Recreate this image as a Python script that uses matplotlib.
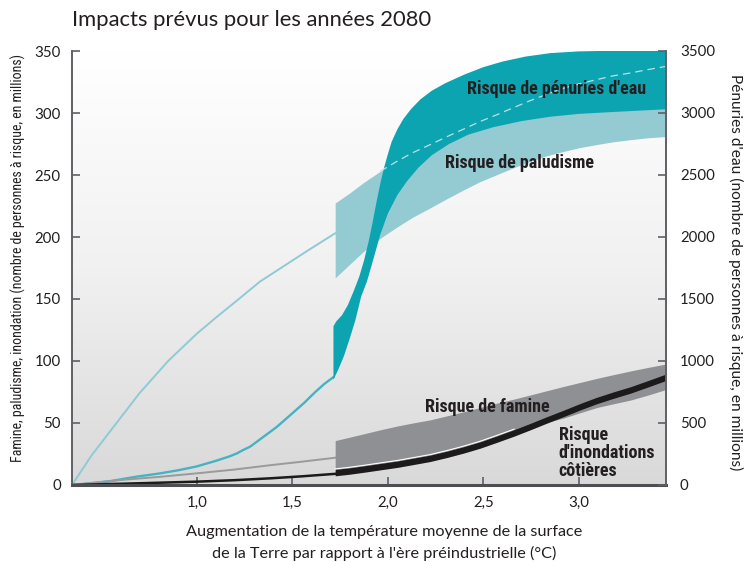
import matplotlib

matplotlib.use("Agg")
import matplotlib.pyplot as plt
import numpy as np
from matplotlib import font_manager
from matplotlib.colors import LinearSegmentedColormap

# values (x in degC, y in millions on the left scale)
malaria_line_x = [0.347, 0.45, 0.58, 0.70, 0.85, 1.0, 1.1, 1.22, 1.33, 1.45, 1.58, 1.724]
malaria_line_y = [0, 24, 50, 74, 100, 122, 135, 150, 164, 176, 189, 203]

water_line_x = [0.347, 0.45, 0.55, 0.684, 0.8, 0.9, 1.0, 1.1, 1.17, 1.21, 1.24, 1.28,
                1.35, 1.42, 1.49, 1.56, 1.62, 1.667, 1.715]
water_line_y = [0, 1.5, 3.2, 6.7, 9.2, 11.8, 15, 19.5, 23, 25.5, 28, 31,
                39, 47, 56.5, 66, 75, 81.5, 87]

famine_line_x = [0.347, 0.6, 0.8, 1.0, 1.2, 1.386, 1.55, 1.724]
famine_line_y = [0, 4, 6.5, 9.4, 12.5, 16, 18.8, 22]

flood_line_x = [0.347, 0.7, 1.0, 1.2, 1.386, 1.55, 1.724]
flood_line_y = [0, 1.4, 2.7, 3.9, 5.4, 7, 9]

malaria_band_x = [1.724, 1.80, 1.873, 1.96, 2.047, 2.13, 2.22, 2.31, 2.396, 2.48, 2.57,
                  2.66, 2.745, 2.83, 2.92, 3.0, 3.094, 3.18, 3.27, 3.36, 3.455]
malaria_band_lo = [167, 178, 188.4, 199, 208, 216, 223.4, 231, 238, 244.5, 250.3,
                   256, 261, 265.5, 269, 272, 274.6, 276.8, 278.5, 280, 281]
malaria_band_hi = [227.4, 235.5, 244, 253, 261, 268, 274.4, 281, 287, 293, 298.6,
                   304.5, 310, 315, 320, 323.5, 327, 330, 332.3, 335, 337.6]

water_hi_x = [1.715, 1.73, 1.76, 1.79, 1.82, 1.85, 1.875, 1.90, 1.92, 1.94, 1.96, 1.98,
              2.0, 2.02, 2.05, 2.08, 2.12, 2.17, 2.23, 2.30, 2.40, 2.50, 2.60, 2.72,
              2.85, 3.0, 3.1, 3.455]
water_hi_y = [128, 132, 137, 145, 156, 168, 181, 197, 212, 228, 243, 256,
              267, 277, 287, 295, 303, 311, 318, 324, 331, 337, 341.5, 345.5,
              348.3, 349.7, 350, 350]
water_lo_x = [1.715, 1.74, 1.77, 1.80, 1.83, 1.86, 1.89, 1.92, 1.96, 2.0, 2.05, 2.10,
              2.16, 2.23, 2.32, 2.42, 2.55, 2.70, 2.85, 3.0, 3.2, 3.455]
water_lo_y = [85, 93, 104, 118, 133, 152, 164, 180, 202, 219, 234, 245,
              256, 266, 275, 282.5, 288.5, 293.5, 297, 299.3, 301, 303]

famine_band_x = [1.724, 1.88, 1.96, 2.05, 2.13, 2.22, 2.31, 2.40, 2.483, 2.57, 2.66,
                 2.745, 2.83, 2.92, 3.0, 3.094, 3.18, 3.27, 3.36, 3.455]
famine_band_lo = [12.6, 15.6, 17.4, 19.4, 21.6, 24.1, 27.4, 31.1, 34.9, 39.6, 44,
                  47.5, 50.5, 54, 58, 62.5, 65.5, 68.5, 72.5, 77]
famine_band_hi = [35.8, 41.5, 44.5, 47.6, 50, 52.5, 55.8, 59.2, 62.5, 66, 69.3,
                  72.6, 76, 79.5, 82.5, 86, 89, 92, 94.8, 97.6]

flood_band_x = [1.724, 1.80, 1.88, 1.96, 2.05, 2.13, 2.22, 2.31, 2.40, 2.483, 2.57,
                2.66, 2.745, 2.83, 2.92, 3.007, 3.09, 3.18, 3.27, 3.36, 3.455]
flood_band_mid = [10, 11.3, 13, 14.8, 16.8, 19, 21.5, 24.8, 28.5, 32.3, 37,
                  42, 47.1, 52.4, 57.8, 63.2, 68, 72.5, 76.7, 81.6, 86.9]

x_ticks = [1.0, 1.5, 2.0, 2.5, 3.0]
x_tick_labels = ["1,0", "1,5", "2,0", "2,5", "3,0"]
left_ticks = [0, 50, 100, 150, 200, 250, 300, 350]
right_ticks = [0, 500, 1000, 1500, 2000, 2500, 3000, 3500]

TEAL = "#0da4b2"
LIGHT_TEAL = "#94cbd3"
GREY_BAND = "#8f9094"
TEXT = "#231f20"
AXIS = "#5f6064"

installed = {f.name for f in font_manager.fontManager.ttflist}


def pick(*names):
    for name in names:
        if name in installed:
            return name
    return "DejaVu Sans"


MAIN = pick("Lato", "Open Sans", "Liberation Sans")
NARROW = pick("Roboto Condensed", "Liberation Sans Narrow", "Lato")
plt.rcParams["font.family"] = [MAIN, "DejaVu Sans"]

fig = plt.figure(figsize=(7.46, 5.62), dpi=100)
ax = fig.add_axes([72 / 746, 77 / 562, 594 / 746, 434 / 562])
xlim = (0.347, 3.455)
ax.set_xlim(*xlim)
ax.set_ylim(0, 350)

bg = LinearSegmentedColormap.from_list("bg", ["#d9d9d9", "#f1f1f1", "#ffffff"])
ax.imshow(np.linspace(0, 1, 256)[:, None], extent=(xlim[0], xlim[1], 0, 350),
          origin="lower", aspect="auto", cmap=bg, zorder=0)

# thin lines leading up to the bands
ax.plot(malaria_line_x, malaria_line_y, color="#8ecbd3", lw=1.4, zorder=2)
ax.plot(water_line_x, water_line_y, color="#45b3c1", lw=1.7, zorder=2)
ax.plot(famine_line_x, famine_line_y, color="#9a9a9c", lw=1.4, zorder=2)
ax.plot(flood_line_x, flood_line_y, color="#1c1a1b", lw=1.8, zorder=2)

# malaria band, water band drawn over it, hidden malaria edge as dashes
ax.fill_between(malaria_band_x, malaria_band_lo, malaria_band_hi, color=LIGHT_TEAL, lw=0, zorder=3)
water_poly_x = water_hi_x + water_lo_x[::-1]
water_poly_y = water_hi_y + water_lo_y[::-1]
ax.fill(water_poly_x, water_poly_y, color=TEAL, lw=0, zorder=4)
mx = np.array(malaria_band_x)
mh = np.array(malaria_band_hi)
keep = mx >= 1.96
ax.plot(mx[keep], mh[keep], color="#b9e0e5", lw=0.9, ls=(0, (6, 4)), zorder=5)

# famine band with coastal flood band over it
ax.fill_between(famine_band_x, famine_band_lo, famine_band_hi, color=GREY_BAND, lw=0, zorder=3)
fm = np.array(flood_band_mid)
fx = np.array(flood_band_x)
sep = fx <= 2.7
ax.plot(fx[sep], fm[sep] + 3.0, color="white", lw=0.8, zorder=5)
ax.fill_between(flood_band_x, fm - 2.6, fm + 2.6, color="#1c1a1b", lw=0, zorder=6)

# band labels
label_kw = dict(fontsize=13, fontweight="bold", color=TEXT, zorder=7, family=[NARROW, "DejaVu Sans"])
ax.text(2.885, 319, "Risque de pénuries d'eau", ha="center", va="center", **label_kw)
ax.text(2.687, 260, "Risque de paludisme", ha="center", va="center", **label_kw)
ax.text(2.52, 63, "Risque de famine", ha="center", va="center", **label_kw)
ax.text(2.894, 25.5, "Risque\nd'inondations\ncôtières", ha="left", va="center",
        linespacing=1.0, **label_kw)

ax.set_xticks(x_ticks)
ax.set_xticklabels(x_tick_labels)
ax.set_yticks(left_ticks)
ax.set_yticklabels([str(v) for v in left_ticks])
ax.tick_params(direction="in", length=6, width=1.2, color=AXIS, labelsize=10.8, labelcolor=TEXT, pad=8)

for side in ["top", "right"]:
    ax.spines[side].set_visible(False)
ax.spines["left"].set_color(AXIS)
ax.spines["left"].set_linewidth(1.4)
ax.spines["bottom"].set_color("#4d4e52")
ax.spines["bottom"].set_linewidth(2.2)

ax2 = ax.twinx()
ax2.set_ylim(0, 3500)
ax2.set_yticks(right_ticks)
ax2.set_yticklabels([str(v) for v in right_ticks])
ax2.tick_params(direction="in", length=6, width=1.2, color=AXIS, labelsize=10.8, labelcolor=TEXT, pad=10)
for side in ["top", "left", "bottom"]:
    ax2.spines[side].set_visible(False)
ax2.spines["right"].set_color(AXIS)
ax2.spines["right"].set_linewidth(1.4)

fig.text(72 / 746, 1 - 20 / 562, "Impacts prévus pour les années 2080", ha="left", va="center",
         fontsize=15.8, color=TEXT)
fig.text(384 / 746, 1 - 532 / 562, "Augmentation de la température moyenne de la surface",
         ha="center", va="center", fontsize=11.7, color=TEXT)
fig.text(384 / 746, 1 - 553 / 562, "de la Terre par rapport à l'ère préindustrielle (°C)",
         ha="center", va="center", fontsize=11.7, color=TEXT)
fig.text(18 / 746, 1 - 258 / 562,
         "Famine, paludisme, inondation (nombre de personnes à risque, en millions)",
         rotation=90, ha="center", va="center", fontsize=10, color=TEXT,
         family=[NARROW, "DejaVu Sans"])
fig.text(736 / 746, 1 - 272 / 562,
         "Pénuries d'eau (nombre de personnes à risque, en millions)",
         rotation=-90, ha="center", va="center", fontsize=11.2, color=TEXT)

fig.savefig("out.png", dpi=100)
